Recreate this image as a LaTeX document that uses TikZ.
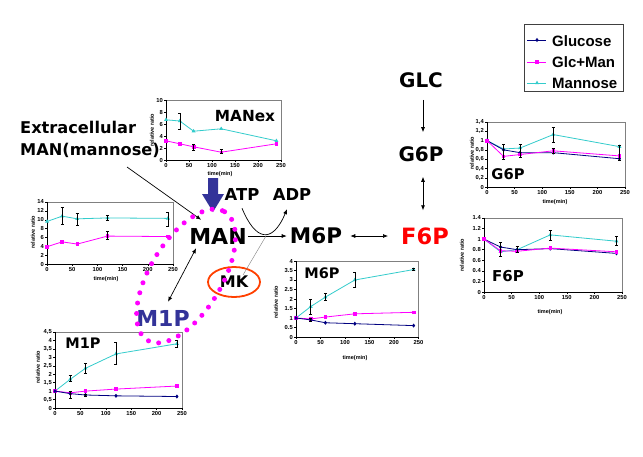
\documentclass[tikz,border=0pt]{standalone}
\usepackage{fontspec}
\setmainfont{DejaVu Sans}
\newfontfamily\arial{Liberation Sans}
\usetikzlibrary{arrows.meta,plotmarks,shapes.geometric}
\definecolor{glc}{RGB}{0,0,128}
\definecolor{gmc}{RGB}{255,0,255}
\definecolor{mnc}{RGB}{51,204,204}
\definecolor{navyb}{RGB}{51,51,153}
\definecolor{mkc}{RGB}{255,64,0}
\definecolor{framec}{RGB}{128,128,128}
\tikzset{
 lbl/.style={font=\bfseries\fontsize{#1}{#1}\selectfont, inner sep=0pt},
 arr/.style={draw=black, line width=0.7pt, -{Latex[length=5pt,width=4pt]}},
 darr/.style={draw=black, line width=0.7pt, {Latex[length=5pt,width=4pt]}-{Latex[length=5pt,width=4pt]}},
 gl/.style={color=glc, line width=0.8pt, mark size=1.4pt},
 gm/.style={color=gmc, line width=0.8pt, mark size=1.3pt},
 mn/.style={color=mnc, line width=0.8pt, mark size=1.5pt},
 eb/.style={draw=black, line width=0.6pt, arrows={Bar[width=3pt]-Bar[width=3pt]}},
 tickl/.style={font=\arial\bfseries\fontsize{5.8}{5.8}\selectfont, inner sep=0pt},
 axt/.style={font=\arial\bfseries\fontsize{5.5}{5.5}\selectfont, inner sep=0pt},
 clabel/.style={font=\bfseries\fontsize{#1}{#1}\selectfont, inner sep=0pt},
 legt/.style={font=\arial\bfseries\fontsize{15}{15}\selectfont, inner sep=0pt, anchor=west},
 mkstyle/.style={ellipse, draw=mkc, line width=1.8pt, minimum width=52pt, minimum height=30pt, inner sep=0pt, font=\bfseries\fontsize{16}{16}\selectfont},
 dots/.style={draw=gmc, line width=5pt, line cap=round, dash pattern=on 0pt off 10.5pt},
}
\newcommand{\chartframe}[2]{%
  \fill[white] (0,0) rectangle (250,#1);
  \draw[framec, line width=0.7pt] (0,#1) -- (250,#1) -- (250,0);
  \draw[black, line width=0.6pt] (0,#1) -- (0,0) -- (250,0);
  \foreach \v/\l in {#2} {\draw[black,line width=0.4pt] (0,\v) -- ++(-2pt,0pt);
     \node[tickl,anchor=east] at ([xshift=-3pt]0,\v) {\l};}
  \foreach \t in {0,50,...,250} {\draw[black,line width=0.4pt] (\t,0) -- ++(0pt,-2pt);
     \node[tickl,anchor=north] at ([yshift=-3.5pt]\t,0) {\t};}
}
\begin{document}
\begin{tikzpicture}[x=1pt,y=-1pt]
\fill[white] (0,0) rectangle (643,456);
\useasboundingbox (0,0) rectangle (643,456);

% ---- chart A : MANex
\begin{scope}[shift={(166,160)},x=0.46pt,y=6pt]
\chartframe{10}{0/0,2/2,4/4,6/6,8/8,10/10}
\draw[mn] plot[mark=triangle*] coordinates {(0,6.7) (30,6.5) (60,4.8) (120,5.2) (240,3.2)};
\draw[gm] plot[mark=square*] coordinates {(0,3.2) (30,2.7) (60,2.2) (120,1.3) (240,2.7)};
\draw[eb] (30,5.0) -- (30,7.8);
\draw[eb] (60,1.5) -- (60,2.6);
\draw[eb] (120,1.0) -- (120,1.8);
\end{scope}
\node[clabel=15.3] (tA) at (245,116) {MANex};
\node[axt] (xA) at (220,174) {time(min)};
\node[axt,rotate=90] (yA) at (152,130) {relative ratio};

% ---- chart B : MAN (intracellular)
\begin{scope}[shift={(47,264)},x=0.504pt,y=4.43pt]
\chartframe{14}{0/0,2/2,4/4,6/6,8/8,10/10,12/12,14/14}
\draw[mn] plot[mark=triangle*] coordinates {(0,9.6) (30,10.8) (60,10.2) (120,10.4) (240,10.3)};
\draw[gm] plot[mark=square*] coordinates {(0,3.9) (30,5.0) (60,4.5) (120,6.3) (240,6.2)};
\draw[eb] (30,8.8) -- (30,12.9);
\draw[eb] (60,8.6) -- (60,11.5);
\draw[eb] (120,9.8) -- (120,11.0);
\draw[eb] (120,5.5) -- (120,7.4);
\draw[eb] (240,8.5) -- (240,11.8);
\end{scope}
\node[axt] (xB) at (106,279) {time(min)};
\node[axt,rotate=90] (yB) at (33,232) {relative ratio};

% ---- chart C : M1P
\begin{scope}[shift={(55,408)},x=0.508pt,y=16.9pt]
\chartframe{4.5}{0/0,0.5/{0,5},1/1,1.5/{1,5},2/2,2.5/{2,5},3/3,3.5/{3,5},4/4,4.5/{4,5}}
\draw[mn] plot[mark=triangle*] coordinates {(0,1) (30,1.7) (60,2.35) (120,3.2) (240,3.8)};
\draw[gm] plot[mark=square*] coordinates {(0,1) (30,0.9) (60,1.0) (120,1.12) (240,1.3)};
\draw[gl] plot[mark=diamond*] coordinates {(0,1) (30,0.85) (60,0.77) (120,0.72) (240,0.68)};
\draw[eb] (30,1.55) -- (30,1.95);
\draw[eb] (60,2.05) -- (60,2.65);
\draw[eb] (120,2.55) -- (120,3.9);
\draw[eb] (240,3.55) -- (240,4.0);
\draw[eb] (30,0.55) -- (30,1.0);
\draw[eb] (60,0.65) -- (60,0.85);
\end{scope}
\node[clabel=14.5] (tC) at (83,343) {M1P};
\node[axt,rotate=90] (yC) at (38,367) {relative ratio};

% ---- chart D : M6P
\begin{scope}[shift={(296,337)},x=0.49pt,y=19pt]
\chartframe{4}{0/0,0.5/0.5,1/1,1.5/1.5,2/2,2.5/2.5,3/3,3.5/3.5,4/4}
\draw[mn] plot[mark=triangle*] coordinates {(0,1) (30,1.6) (60,2.1) (120,3.0) (240,3.55)};
\draw[gm] plot[mark=square*] coordinates {(0,1) (30,0.95) (60,1.05) (120,1.22) (240,1.3)};
\draw[gl] plot[mark=diamond*] coordinates {(0,1) (30,0.9) (60,0.75) (120,0.7) (240,0.6)};
\draw[eb] (30,1.2) -- (30,2.0);
\draw[eb] (60,1.9) -- (60,2.3);
\draw[eb] (120,2.6) -- (120,3.4);
\draw[eb] (240,3.5) -- (240,3.65);
\draw[eb] (30,0.8) -- (30,1.0);
\end{scope}
\node[clabel=14.5] (tD) at (322,273) {M6P};
\node[axt] (xD) at (355,358) {time(min)};
\node[axt,rotate=90] (yD) at (276,302) {relative ratio};

% ---- chart E : G6P
\begin{scope}[shift={(487,187)},x=0.552pt,y=46.4pt]
\chartframe{1.4}{0/0,0.2/{0,2},0.4/{0,4},0.6/{0,6},0.8/{0,8},1/1,1.2/{1,2},1.4/{1,4}}
\draw[mn] plot[mark=triangle*] coordinates {(0,1.0) (30,0.82) (60,0.84) (120,1.13) (240,0.87)};
\draw[gl] plot[mark=diamond*] coordinates {(0,1.0) (30,0.8) (60,0.74) (120,0.74) (240,0.61)};
\draw[gm] plot[mark=square*] coordinates {(0,1.0) (30,0.66) (60,0.7) (120,0.78) (240,0.67)};
\draw[eb] (30,0.6) -- (30,0.92);
\draw[eb] (60,0.64) -- (60,0.92);
\draw[eb] (120,0.95) -- (120,1.3);
\draw[eb] (120,0.72) -- (120,0.85);
\draw[eb] (240,0.56) -- (240,0.9);
\end{scope}
\node[clabel=14.7] (tE) at (508,174) {G6P};
\node[axt] (xE) at (555,202) {time(min)};
\node[axt,rotate=90] (yE) at (472,153) {relative ratio};

% ---- chart F : F6P
\begin{scope}[shift={(484,292)},x=0.552pt,y=52.9pt]
\chartframe{1.4}{0/0,0.2/0.2,0.4/0.4,0.6/0.6,0.8/0.8,1/1,1.2/1.2,1.4/1.4}
\draw[mn] plot[mark=triangle*] coordinates {(0,1.0) (30,0.76) (60,0.8) (120,1.08) (240,0.96)};
\draw[gl] plot[mark=diamond*] coordinates {(0,1.0) (30,0.85) (60,0.8) (120,0.82) (240,0.73)};
\draw[gm] plot[mark=square*] coordinates {(0,1.0) (30,0.78) (60,0.77) (120,0.83) (240,0.76)};
\draw[eb] (30,0.67) -- (30,0.95);
\draw[eb] (60,0.75) -- (60,0.87);
\draw[eb] (120,0.97) -- (120,1.17);
\draw[eb] (240,0.88) -- (240,1.05);
\end{scope}
\node[clabel=15] (tF) at (508,276) {F6P};
\node[axt] (xF) at (550,312) {time(min)};
\node[axt,rotate=90] (yF) at (462,255) {relative ratio};

% ---- legend
\draw[black!75, line width=0.8pt] (524,24) rectangle (623,91);
\draw[gl] (527,40) -- (546,40); \draw[gl] plot[mark=diamond*] coordinates {(537,40)};
\draw[gm] (527,62) -- (546,62); \draw[gm] plot[mark=square*] coordinates {(537,62)};
\draw[mn] (527,83) -- (546,83); \draw[mn] plot[mark=triangle*] coordinates {(537,83)};
\node[legt] (lg1) at (552,41) {Glucose};
\node[legt] (lg2) at (552,62) {Glc+Man};
\node[legt] (lg3) at (552,83) {Mannose};

% ---- pathway labels
\node[lbl=20] (glc) at (421,80) {GLC};
\node[lbl=20] (g6p) at (421,154) {G6P};
\node[lbl=22.5, text=red] (f6p) at (425,236) {F6P};
\node[lbl=21.5] (m6p) at (316,236) {M6P};
\node[lbl=22] (man) at (218,236) {MAN};
\node[lbl=16.4] (atp) at (242,195) {ATP};
\node[lbl=16.4] (adp) at (292,195) {ADP};
\node[lbl=22, text=navyb] (m1p) at (163,318) {M1P};
\node[mkstyle] (mk) at (234,282) {MK};
\node[font=\bfseries\fontsize{16.2}{22}\selectfont, inner sep=0pt, align=left, anchor=west] (ext) at (20,139) {Extracellular\\MAN(mannose)};

% ---- connectors
\draw[arr, shorten <=12pt, shorten >=14pt] ([xshift=2pt]glc.south) -- ([xshift=2pt]g6p.north);
\draw[darr, shorten <=15pt, shorten >=17pt] ([xshift=2pt]g6p.south) -- ([xshift=-2pt]f6p.north);
\draw[darr, shorten <=8pt, shorten >=13pt] (m6p) -- (f6p);
\draw[arr, shorten <=1pt, shorten >=3pt] (man) -- (m6p);
\draw[arr] ([yshift=-7pt]atp.south) .. controls (255,240) and (272,245) .. ([shift={(-5pt,-8pt)}]adp.south);
\coordinate (rxn) at (266,236);
\draw[gray, line width=0.4pt] (rxn) -- ([shift={(9pt,7pt)}]mk.center);
\coordinate (extp) at (127,167);
\draw[arr] (extp) -- ([shift={(12pt,8pt)}]man.north west);
\draw[darr] ([shift={(7pt,-4pt)}]man.south west) -- ([shift={(5pt,8pt)}]m1p.north);

% ---- blue uptake arrow
\fill[navyb] (208,178) -- (218,178) -- (218,194) -- (224,194) -- (213,212) -- (202,194) -- (208,194) -- cycle;

% ---- dotted ellipse
\draw[dots, rotate around={59:(186,276)}] (186,276) ellipse [x radius=75, y radius=36];
\end{tikzpicture}
\end{document}
